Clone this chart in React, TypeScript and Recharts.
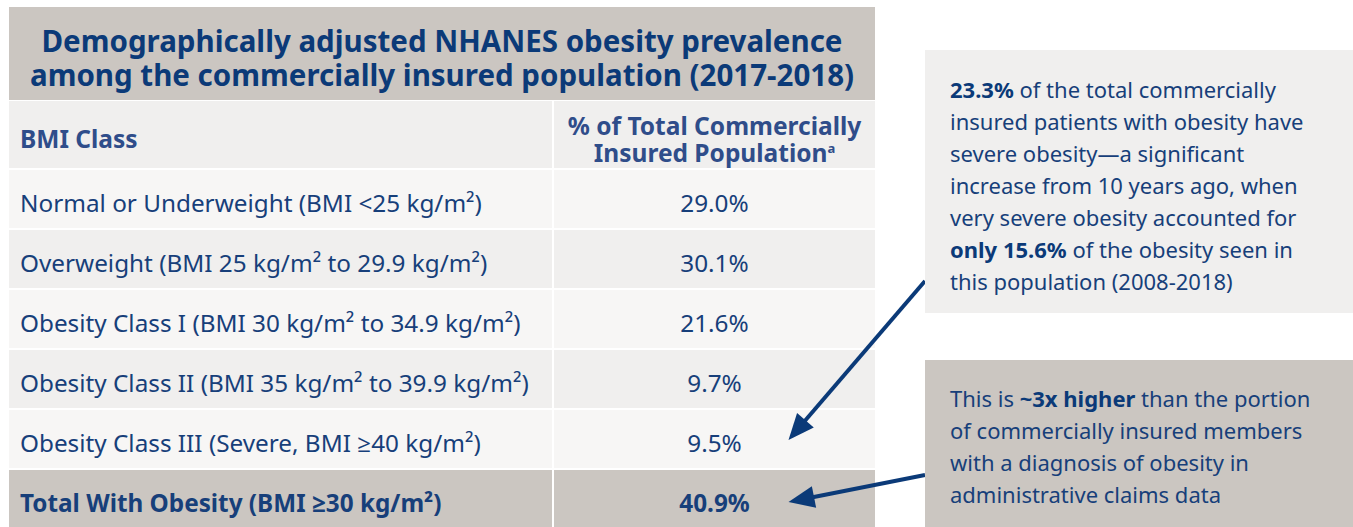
import React from 'react';
import { BarChart, Bar, XAxis, YAxis } from 'recharts';

// rows of the table
const bmiClasses = [
  'Normal or Underweight (BMI <25 kg/m²)',
  'Overweight (BMI 25 kg/m² to 29.9 kg/m²)',
  'Obesity Class I (BMI 30 kg/m² to 34.9 kg/m²)',
  'Obesity Class II (BMI 35 kg/m² to 39.9 kg/m²)',
  'Obesity Class III (Severe, BMI ≥40 kg/m²)',
  'Total With Obesity (BMI ≥30 kg/m²)',
];
const prevalence = [29.0, 30.1, 21.6, 9.7, 9.5, 40.9];

const titleLines = [
  'Demographically adjusted NHANES obesity prevalence',
  'among the commercially insured population (2017-2018)',
];
const headerLeft = 'BMI Class';
const headerRightLines = ['% of Total Commercially', 'Insured Population'];

const rows = bmiClasses.map((label, i) => ({ label, value: prevalence[i] }));

const FONT = '"Noto Sans", "Open Sans", sans-serif';
const NAVY = '#0b3a78';
const TEXT = '#173f7a';
const HEAD = '#2f4d8a';
const TAUPE = '#cbc6c1';
const LIGHT = '#f0efee';
const LIGHTER = '#f7f6f5';

const TABLE_LEFT = 9;
const TABLE_W = 866;
const LABEL_W = 543;

// arrow from a fixed box edge to the row's value cell
function Arrow({ x1, y1, x2, y2 }: { x1: number; y1: number; x2: number; y2: number }) {
  const dx = x2 - x1;
  const dy = y2 - y1;
  const len = Math.sqrt(dx * dx + dy * dy);
  const ux = dx / len;
  const uy = dy / len;
  const headL = 26;
  const headW = 11;
  const bx = x2 - ux * headL;
  const by = y2 - uy * headL;
  const px = -uy;
  const py = ux;
  return (
    <g>
      <line x1={x1} y1={y1} x2={bx + ux * 4} y2={by + uy * 4} stroke={NAVY} strokeWidth={4} />
      <polygon
        points={`${x2},${y2} ${bx + px * headW},${by + py * headW} ${bx - px * headW},${by - py * headW}`}
        fill={NAVY}
      />
    </g>
  );
}

function RowShape(props: any) {
  const { x, y, height, payload } = props;
  const index = props.index ?? bmiClasses.indexOf(payload.label);
  const bg = props.background;
  const left = bg && bg.width ? bg.x : x;
  const fullW = bg && bg.width ? bg.width : TABLE_W;
  const last = index === bmiClasses.length - 1;
  const fill = last ? TAUPE : index % 2 === 0 ? LIGHTER : LIGHT;
  const cy = y + height / 2;
  const divX = left + LABEL_W;
  const valueX = divX + 2 + (fullW - LABEL_W - 2) / 2;
  return (
    <g>
      <rect x={left} y={y + 1} width={LABEL_W} height={height - 2} fill={fill} />
      <rect x={divX + 2} y={y + 1} width={fullW - LABEL_W - 2} height={height - 2} fill={fill} />
      <text
        x={left + 11}
        y={cy + 3}
        dominantBaseline="central"
        fontFamily={FONT}
        fontSize={24.3}
        fontWeight={last ? 700 : 400}
        fill={TEXT}
      >
        {payload.label}
      </text>
      <text
        x={valueX}
        y={cy + 3}
        textAnchor="middle"
        dominantBaseline="central"
        fontFamily={FONT}
        fontSize={24.3}
        fontWeight={last ? 700 : 400}
        fill={TEXT}
      >
        {payload.value.toFixed(1)}%
      </text>
      {index === 4 && <Arrow x1={925} y1={281} x2={valueX + 74} y2={cy + 1} />}
      {index === 5 && <Arrow x1={925} y1={475} x2={valueX + 74} y2={cy + 3} />}
    </g>
  );
}

const boxText: React.CSSProperties = {
  position: 'absolute',
  left: 925,
  width: 428,
  boxSizing: 'border-box',
  paddingLeft: 25,
  fontFamily: FONT,
  fontSize: 22,
  lineHeight: '32px',
  color: TEXT,
};

export default function App() {
  return (
    <div
      style={{
        position: 'absolute',
        left: 0,
        top: 0,
        width: 1353,
        height: 527,
        overflow: 'hidden',
        background: '#fff',
        fontFamily: FONT,
      }}
    >
      {/* title band */}
      <div
        style={{
          position: 'absolute',
          left: TABLE_LEFT,
          top: 7,
          width: TABLE_W,
          height: 93,
          background: TAUPE,
          color: NAVY,
          fontWeight: 700,
          fontSize: 29.5,
          lineHeight: '34px',
          textAlign: 'center',
          boxSizing: 'border-box',
          paddingTop: 17,
          whiteSpace: 'nowrap',
        }}
      >
        {titleLines.map((t) => (
          <div key={t}>{t}</div>
        ))}
      </div>

      {/* header row */}
      <div
        style={{
          position: 'absolute',
          left: TABLE_LEFT,
          top: 101,
          width: LABEL_W,
          height: 67,
          background: LIGHT,
          color: HEAD,
          fontWeight: 700,
          fontSize: 24.5,
          lineHeight: '67px',
          boxSizing: 'border-box',
          paddingLeft: 11,
        }}
      >
        <div style={{ position: 'relative', top: 4 }}>{headerLeft}</div>
      </div>
      <div
        style={{
          position: 'absolute',
          left: TABLE_LEFT + LABEL_W + 2,
          top: 101,
          width: TABLE_W - LABEL_W - 2,
          height: 67,
          background: LIGHT,
          color: HEAD,
          fontWeight: 700,
          fontSize: 24.5,
          lineHeight: '27px',
          textAlign: 'center',
          boxSizing: 'border-box',
          paddingTop: 11,
          whiteSpace: 'nowrap',
        }}
      >
        <div>{headerRightLines[0]}</div>
        <div>
          {headerRightLines[1]}
          <sup style={{ fontSize: 13, verticalAlign: 0, position: 'relative', top: -9 }}>a</sup>
        </div>
      </div>

      <div style={{ position: 'absolute', left: 0, top: 0 }}>
        <BarChart
          width={1353}
          height={529}
          data={rows}
          layout="vertical"
          margin={{ top: 169, right: 1353 - TABLE_LEFT - TABLE_W, bottom: 0, left: TABLE_LEFT }}
          barCategoryGap={0}
        >
          <XAxis type="number" domain={[0, 100]} hide />
          <YAxis type="category" dataKey="label" hide />
          <Bar dataKey="value" shape={RowShape} isAnimationActive={false} />
        </BarChart>
      </div>

      {/* note boxes */}
      <div style={{ ...boxText, top: 50, height: 263, background: LIGHT, paddingTop: 23 }}>
        <b style={{ color: NAVY }}>23.3%</b> of the total commercially
        <br />
        insured patients with obesity have
        <br />
        severe obesity—a significant
        <br />
        increase from 10 years ago, when
        <br />
        very severe obesity accounted for
        <br />
        <b style={{ color: NAVY }}>only 15.6%</b> of the obesity seen in
        <br />
        this population (2008-2018)
      </div>
      <div style={{ ...boxText, top: 360, height: 170, background: TAUPE, paddingTop: 22 }}>
        This is <b style={{ color: NAVY }}>~3x higher</b> than the portion
        <br />
        of commercially insured members
        <br />
        with a diagnosis of obesity in
        <br />
        administrative claims data
      </div>
    </div>
  );
}
